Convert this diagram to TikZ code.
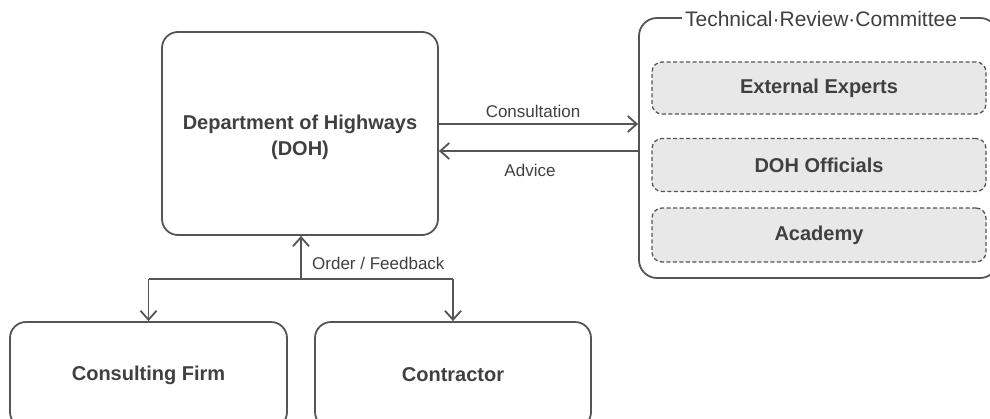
\documentclass[tikz,border=0pt]{standalone}
\usepackage{fontspec}
\setmainfont{Liberation Sans}
\usetikzlibrary{arrows.meta,calc}
\definecolor{ln}{HTML}{555555}
\definecolor{tx}{HTML}{404040}
\definecolor{fl}{HTML}{E8E8E8}
\begin{document}
\begin{tikzpicture}[x=1pt,y=-1pt,
  box/.style={draw=ln,line width=1.8pt,rounded corners=16pt,text=tx,font=\bfseries\fontsize{20}{26}\selectfont,align=center},
  member/.style={draw=ln,line width=1.3pt,dash pattern=on 4pt off 2.5pt,rounded corners=10pt,fill=fl,text=tx,font=\bfseries\fontsize{20}{24}\selectfont},
  conn/.style={draw=ln,line width=1.8pt},
  arr/.style={conn,-{Straight Barb[length=9pt,width=16pt,line width=1.8pt]}},
  lbl/.style={text=tx,font=\fontsize{17}{20}\selectfont,inner sep=0pt},
  ttl/.style={text=tx,fill=white,inner xsep=3pt,inner ysep=1pt,font=\fontsize{21}{24}\selectfont}]
\useasboundingbox (0,0) rectangle (990,418);
\clip (0,0) rectangle (990,418);
% boxes
\node[box,minimum width=276pt,minimum height=203pt,
  label={[text=tx,font=\bfseries\fontsize{20}{26}\selectfont,align=center,yshift=-3.5pt]center:Department of Highways\\(DOH)}] (doh) at (300,133.5) {};
\node[box,minimum width=277pt,minimum height=106pt] (cf) at (148.5,375) {Consulting Firm};
\node[box,minimum width=276pt,minimum height=106pt] (con) at (453,375) {Contractor};
\node[box,rounded corners=18pt,minimum width=359pt,minimum height=260pt] (trc) at (818.5,148) {};
\node[ttl] (trct) at (821,18.5) {Technical·Review·Committee};
\node[member,minimum width=334pt,minimum height=52pt] (ext) at (819,88) {External Experts};
\node[member,minimum width=334pt,minimum height=53pt] (dohoff) at (819,165) {DOH Officials};
\node[member,minimum width=334pt,minimum height=54pt] (acad) at (819,235) {Academy};
% consultation / advice
\draw[arr] ([yshift=9.5pt]doh.east) -- ([yshift=9.5pt]doh.east -| trc.west);
\draw[arr] ([yshift=-17.5pt]doh.east -| trc.west) -- ([yshift=-17.5pt]doh.east);
\node[lbl] (lc) at (533,111) {Consultation};
\node[lbl] (la) at (530,170) {Advice};
% order / feedback
\coordinate (j) at (301,279);
\coordinate (jl) at (148.5,279);
\coordinate (jr) at (453,279);
\draw[arr] (j) -- (doh.south -| j);
\draw[conn] (jl) -- (jr);
\draw[arr] (jl) -- (jl |- cf.north);
\draw[arr] (jr) -- (jr |- con.north);
\node[lbl,anchor=west] (lo) at (312,263) {Order / Feedback};
\end{tikzpicture}
\end{document}
